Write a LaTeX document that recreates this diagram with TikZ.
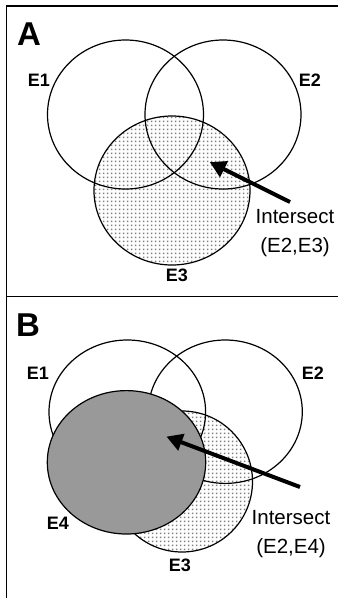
\documentclass[tikz,border=0pt]{standalone}
\usepackage{fontspec}
\setmainfont{Liberation Sans}
\usetikzlibrary{arrows.meta,patterns.meta}
\tikzdeclarepattern{
  name=smalldots,
  type=uncolored,
  bounding box={(0pt,0pt) and (4.3pt,4.3pt)},
  tile size={(4.3pt,4.3pt)},
  code={\fill (1.1pt,1.1pt) rectangle (2.7pt,2.7pt);}
}
\tikzset{
  frame/.style={line width=1.6pt, black},
  venn/.style={draw=black, line width=1.2pt},
  dotfill/.style={pattern=smalldots, pattern color=black!50},
  grayset/.style={draw=black, line width=1.2pt, fill=black!40},
  setlabel/.style={font=\fontsize{18}{18}\selectfont\bfseries, inner sep=0pt},
  panellabel/.style={font=\fontsize{33}{33}\selectfont\bfseries, inner sep=0pt},
  note/.style={font=\fontsize{20.5}{29}\selectfont, inner sep=0pt, align=center},
  bigarrow/.style={line width=4pt, -{Triangle[length=16pt,width=17pt]}, shorten >=-2pt}
}
\begin{document}
\begin{tikzpicture}[x=1pt,y=-1pt]
\useasboundingbox (0,0) rectangle (338,598);
% frame
\draw[frame] (6.5,5.7) -- (338,5.7);
\draw[frame] (6.5,296.5) -- (338,296.5);
\draw[frame] (6.5,5) -- (6.5,598);

% ---------- Panel A ----------
\node[panellabel] (lA) at (29,34) {A};
\fill[dotfill] (172,190.5) ellipse (78pt and 74.5pt);
\draw[venn] (125.5,114.5) ellipse (78pt and 74.5pt);
\draw[venn] (223,114.5) ellipse (78pt and 74.5pt);
\draw[venn] (172,190.5) ellipse (78pt and 74.5pt);
\node[setlabel] (aE1) at (39,80) {E1};
\node[setlabel] (aE2) at (310,80) {E2};
\node[setlabel] (aE3) at (177,275) {E3};
\node[note] (aInt) at (295,233) {Intersect\\(E2,E3)};
\coordinate (aTail) at (290,202);
\coordinate (aTip) at (211.5,163);
\draw[bigarrow] (aTail) -- (aTip);

% ---------- Panel B ----------
\node[panellabel] (lB) at (28,325) {B};
\fill[dotfill] (182,481.5) ellipse (70.5pt and 70.5pt);
\draw[venn] (127.3,412) ellipse (78.3pt and 72pt);
\draw[venn] (225.3,411.7) ellipse (77pt and 71.7pt);
\draw[venn] (182,481.5) ellipse (70.5pt and 70.5pt);
\filldraw[grayset] (126.5,462.3) ellipse (79.2pt and 71.7pt);
\node[setlabel] (bE1) at (38,373) {E1};
\node[setlabel] (bE2) at (313,373) {E2};
\node[setlabel] (bE4) at (58,523) {E4};
\node[setlabel] (bE3) at (180,565) {E3};
\node[note] (bInt) at (291,534) {Intersect\\(E2,E4)};
\coordinate (bTail) at (300,487);
\coordinate (bTip) at (168.3,437.3);
\draw[bigarrow] (bTail) -- (bTip);
\end{tikzpicture}
\end{document}
